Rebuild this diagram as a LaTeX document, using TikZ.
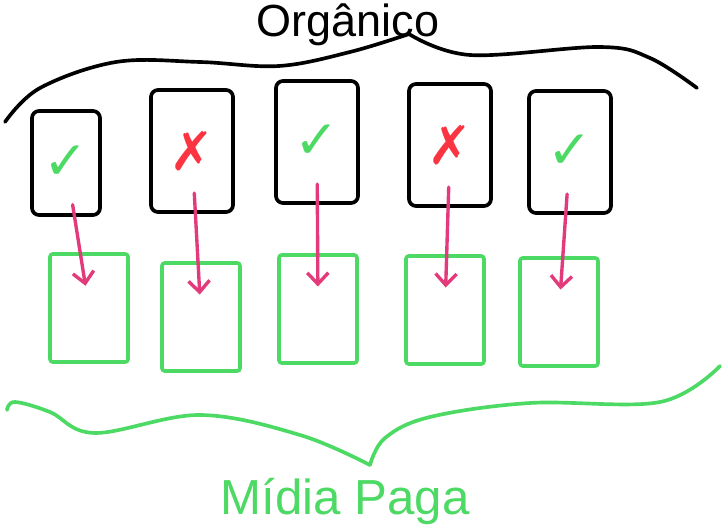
\documentclass[tikz,border=0pt]{standalone}
\usepackage{fontspec}
\setmainfont{Liberation Sans}
\newfontfamily\markfont{DejaVu Sans}
\usetikzlibrary{shapes,arrows,arrows.meta,positioning}
\definecolor{sketchgreen}{RGB}{76,217,100}
\definecolor{sketchpink}{RGB}{226,58,122}
\definecolor{sketchred}{RGB}{250,52,64}
\newcommand{\okmark}{{\markfont\color{sketchgreen}✓}}
\newcommand{\badmark}{{\markfont\color{sketchred}✗}}

\begin{document}
\begin{tikzpicture}[x=0.025cm,y=-0.025cm,line cap=round,line join=round,
orgcard/.style={draw,line width=2.6pt,rounded corners=5pt,minimum width=2.05cm,minimum height=3.05cm,font=\fontsize{38}{38}\selectfont},
paidcard/.style={draw=sketchgreen,line width=2.6pt,rounded corners=2pt,minimum width=1.95cm,minimum height=2.7cm},
link/.style={-{Straight Barb[length=8pt,width=15pt]},draw=sketchpink,line width=2.4pt,shorten <=30pt,shorten >=16pt},
title/.style={font=\fontsize{32}{32}\selectfont}]
\useasboundingbox (0,0) rectangle (724,530);
\node[orgcard,minimum width=1.7cm,minimum height=2.6cm](t1) at (66,163){\okmark};
\node[orgcard](t2) at (192,151){\badmark};
\node[orgcard](t3) at (317,142){\okmark};
\node[orgcard](t4) at (450,145){\badmark};
\node[orgcard](t5) at (570,152){\okmark};
\node[paidcard](b1) at (89,308){};
\node[paidcard](b2) at (201,317){};
\node[paidcard](b3) at (318,309){};
\node[paidcard](b4) at (445,310){};
\node[paidcard](b5) at (559,312){};
\draw[link](t1.center)--(b1.center);
\draw[link](t2.center)--(b2.center);
\draw[link](t3.center)--(b3.center);
\draw[link](t4.center)--(b4.center);
\draw[link](t5.center)--(b5.center);
\draw[line width=2.6pt] plot[smooth,tension=0.6] coordinates {(5,122) (40,88) (116,62) (200,62) (279,66) (350,52) (409,34)};
\draw[line width=2.6pt] plot[smooth,tension=0.6] coordinates {(409,34) (470,55) (600,47) (650,58) (697,88)};
\draw[sketchgreen,line width=2.6pt] plot[smooth,tension=0.6] coordinates {(7,410) (15,402) (50,412) (95,433) (200,415) (300,435) (370,465)};
\draw[sketchgreen,line width=2.6pt] plot[smooth,tension=0.6] coordinates {(370,465) (385,438) (430,417) (530,403) (660,402) (720,366)};
\node[title](org) at (348,25){Orgânico};
\node[title,text=sketchgreen,font=\fontsize{35}{35}\selectfont](paid) at (345,501){Mídia Paga};
\end{tikzpicture}
\end{document}
